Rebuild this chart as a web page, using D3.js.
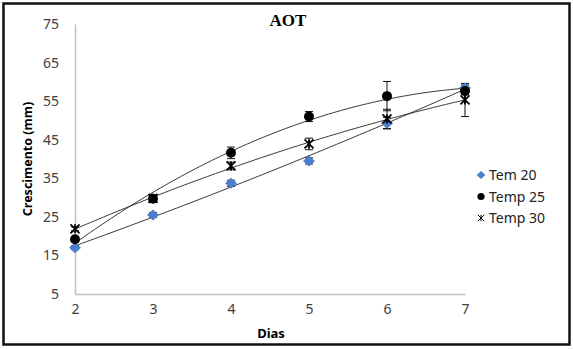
<!DOCTYPE html>
<html>
<head>
<meta charset="utf-8">
<script src="https://cdn.jsdelivr.net/npm/d3@7"></script>
<style>
  body { margin: 0; background: #fff; }
  text { font-family: "Noto Sans", sans-serif; }
</style>
</head>
<body>
<div id="chart"></div>
<script>
// data
var days = [2, 3, 4, 5, 6, 7];
var seriesNames = ["Tem 20", "Temp 25", "Temp 30"];
var tem20 = [17.0, 25.5, 33.7, 39.5, 49.3, 58.4];
var temp25 = [19.2, 29.7, 41.6, 51.0, 56.3, 57.6];
var temp30 = [21.9, 29.8, 38.2, 43.9, 50.4, 55.3];
var err20 = [0.5, 0.6, 0.8, 0.8, 1.5, 0.8];
var err25 = [0.6, 0.8, 1.5, 1.3, 3.8, 0.8];
var err30 = [0.5, 0.8, 1.0, 1.5, 2.5, 4.3];
var yTicks = [5, 15, 25, 35, 45, 55, 65, 75];

var width = 573;
var height = 349;

var svg = d3.select("#chart")
  .append("svg")
  .attr("width", width)
  .attr("height", height);

svg.append("rect")
  .attr("x", 0).attr("y", 0)
  .attr("width", width).attr("height", height)
  .attr("fill", "#fff");

// outer frame
svg.append("rect")
  .attr("x", 3.5).attr("y", 3.5)
  .attr("width", 566).attr("height", 341)
  .attr("fill", "none")
  .attr("stroke", "#111")
  .attr("stroke-width", 2.5);

var x = d3.scaleLinear().domain([2, 7]).range([75, 465]);
var y = d3.scaleLinear().domain([5, 75]).range([294, 24]);

// axes
var yAxis = svg.append("g")
  .attr("transform", "translate(75,0)")
  .call(d3.axisLeft(y).tickValues(yTicks).tickSize(0).tickPadding(16));
yAxis.select(".domain").attr("stroke", "#bfbfbf").attr("stroke-width", 1.5);
yAxis.selectAll("text").attr("font-size", "14px").attr("fill", "#404040")
  .style("font-family", '"Noto Sans", sans-serif');

var xAxis = svg.append("g")
  .attr("transform", "translate(0,294)")
  .call(d3.axisBottom(x).tickValues(days).tickFormat(d3.format("d")).tickSize(0).tickPadding(10));
xAxis.select(".domain").attr("stroke", "#bfbfbf").attr("stroke-width", 1.5);
xAxis.selectAll("text").attr("font-size", "14px").attr("fill", "#404040")
  .style("font-family", '"Noto Sans", sans-serif');

// titles
svg.append("text")
  .attr("x", 288).attr("y", 26)
  .attr("text-anchor", "middle")
  .style("font-family", '"Liberation Serif", serif')
  .attr("font-weight", "bold")
  .attr("font-size", "17px")
  .text("AOT");

svg.append("text")
  .attr("x", 271).attr("y", 338)
  .attr("text-anchor", "middle")
  .attr("font-weight", "bold")
  .attr("font-size", "13px")
  .text("Dias");

svg.append("text")
  .attr("transform", "translate(32,159) rotate(-90)")
  .attr("text-anchor", "middle")
  .attr("font-weight", "bold")
  .attr("font-size", "12.5px")
  .text("Crescimento (mm)");

// quadratic least squares trendline
function polyFit(xs, ys) {
  var n = xs.length, s = [0, 0, 0, 0, 0], t = [0, 0, 0];
  for (var i = 0; i < n; i++) {
    for (var k = 0; k < 5; k++) s[k] += Math.pow(xs[i], k);
    for (var k = 0; k < 3; k++) t[k] += ys[i] * Math.pow(xs[i], k);
  }
  var m = [[s[0], s[1], s[2], t[0]], [s[1], s[2], s[3], t[1]], [s[2], s[3], s[4], t[2]]];
  for (var c = 0; c < 3; c++) {
    for (var r = c + 1; r < 3; r++) {
      var f = m[r][c] / m[c][c];
      for (var j = c; j < 4; j++) m[r][j] -= f * m[c][j];
    }
  }
  var coef = [0, 0, 0];
  for (var r = 2; r >= 0; r--) {
    var v = m[r][3];
    for (var j = r + 1; j < 3; j++) v -= m[r][j] * coef[j];
    coef[r] = v / m[r][r];
  }
  return coef;
}

var series = [
  {name: seriesNames[0], vals: tem20, err: err20, type: "diamond"},
  {name: seriesNames[1], vals: temp25, err: err25, type: "circle"},
  {name: seriesNames[2], vals: temp30, err: err30, type: "star"}
];

var line = d3.line().x(function(d) { return x(d[0]); }).y(function(d) { return y(d[1]); });

series.forEach(function(s) {
  var c = polyFit(days, s.vals);
  var pts = d3.range(2, 7.001, 0.05).map(function(d) { return [d, c[0] + c[1] * d + c[2] * d * d]; });
  svg.append("path")
    .attr("d", line(pts))
    .attr("fill", "none")
    .attr("stroke", "#222")
    .attr("stroke-width", 0.9);
});

// error bars
series.forEach(function(s) {
  var g = svg.append("g").attr("stroke", "#111").attr("stroke-width", 1);
  days.forEach(function(d, i) {
    var cx = x(d), top = y(s.vals[i] + s.err[i]), bot = y(s.vals[i] - s.err[i]);
    g.append("line").attr("x1", cx).attr("x2", cx).attr("y1", top).attr("y2", bot);
    g.append("line").attr("x1", cx - 4).attr("x2", cx + 4).attr("y1", top).attr("y2", top);
    g.append("line").attr("x1", cx - 4).attr("x2", cx + 4).attr("y1", bot).attr("y2", bot);
  });
});

function marker(g, type, cx, cy, sc) {
  if (type === "diamond") {
    var w = 6 * sc, h = 5.5 * sc;
    g.append("path")
      .attr("d", "M" + cx + "," + (cy - h) + "L" + (cx + w) + "," + cy +
        "L" + cx + "," + (cy + h) + "L" + (cx - w) + "," + cy + "Z")
      .attr("fill", "#4a7fcd");
  } else if (type === "circle") {
    g.append("circle").attr("cx", cx).attr("cy", cy).attr("r", 5 * sc).attr("fill", "#000");
  } else {
    var r = 4.5 * sc;
    g.append("path")
      .attr("d", "M" + (cx - r) + "," + (cy - r) + "L" + (cx + r) + "," + (cy + r) +
        "M" + (cx - r) + "," + (cy + r) + "L" + (cx + r) + "," + (cy - r) +
        "M" + cx + "," + (cy - r) + "L" + cx + "," + (cy + r))
      .attr("stroke", "#000")
      .attr("stroke-width", sc < 1 ? 1 : 1.8)
      .attr("fill", "none");
  }
}

series.forEach(function(s) {
  var g = svg.append("g");
  days.forEach(function(d, i) { marker(g, s.type, x(d), y(s.vals[i]), 1); });
});

// legend
var legend = svg.append("g").attr("transform", "translate(481,175)");
series.forEach(function(s, i) {
  var row = legend.append("g").attr("transform", "translate(0," + (i * 21.5) + ")");
  marker(row, s.type, 0, 0, 0.72);
  row.append("text")
    .attr("x", 8).attr("y", 5)
    .attr("font-size", "14px")
    .attr("fill", "#222")
    .text(s.name);
});
</script>
</body>
</html>
